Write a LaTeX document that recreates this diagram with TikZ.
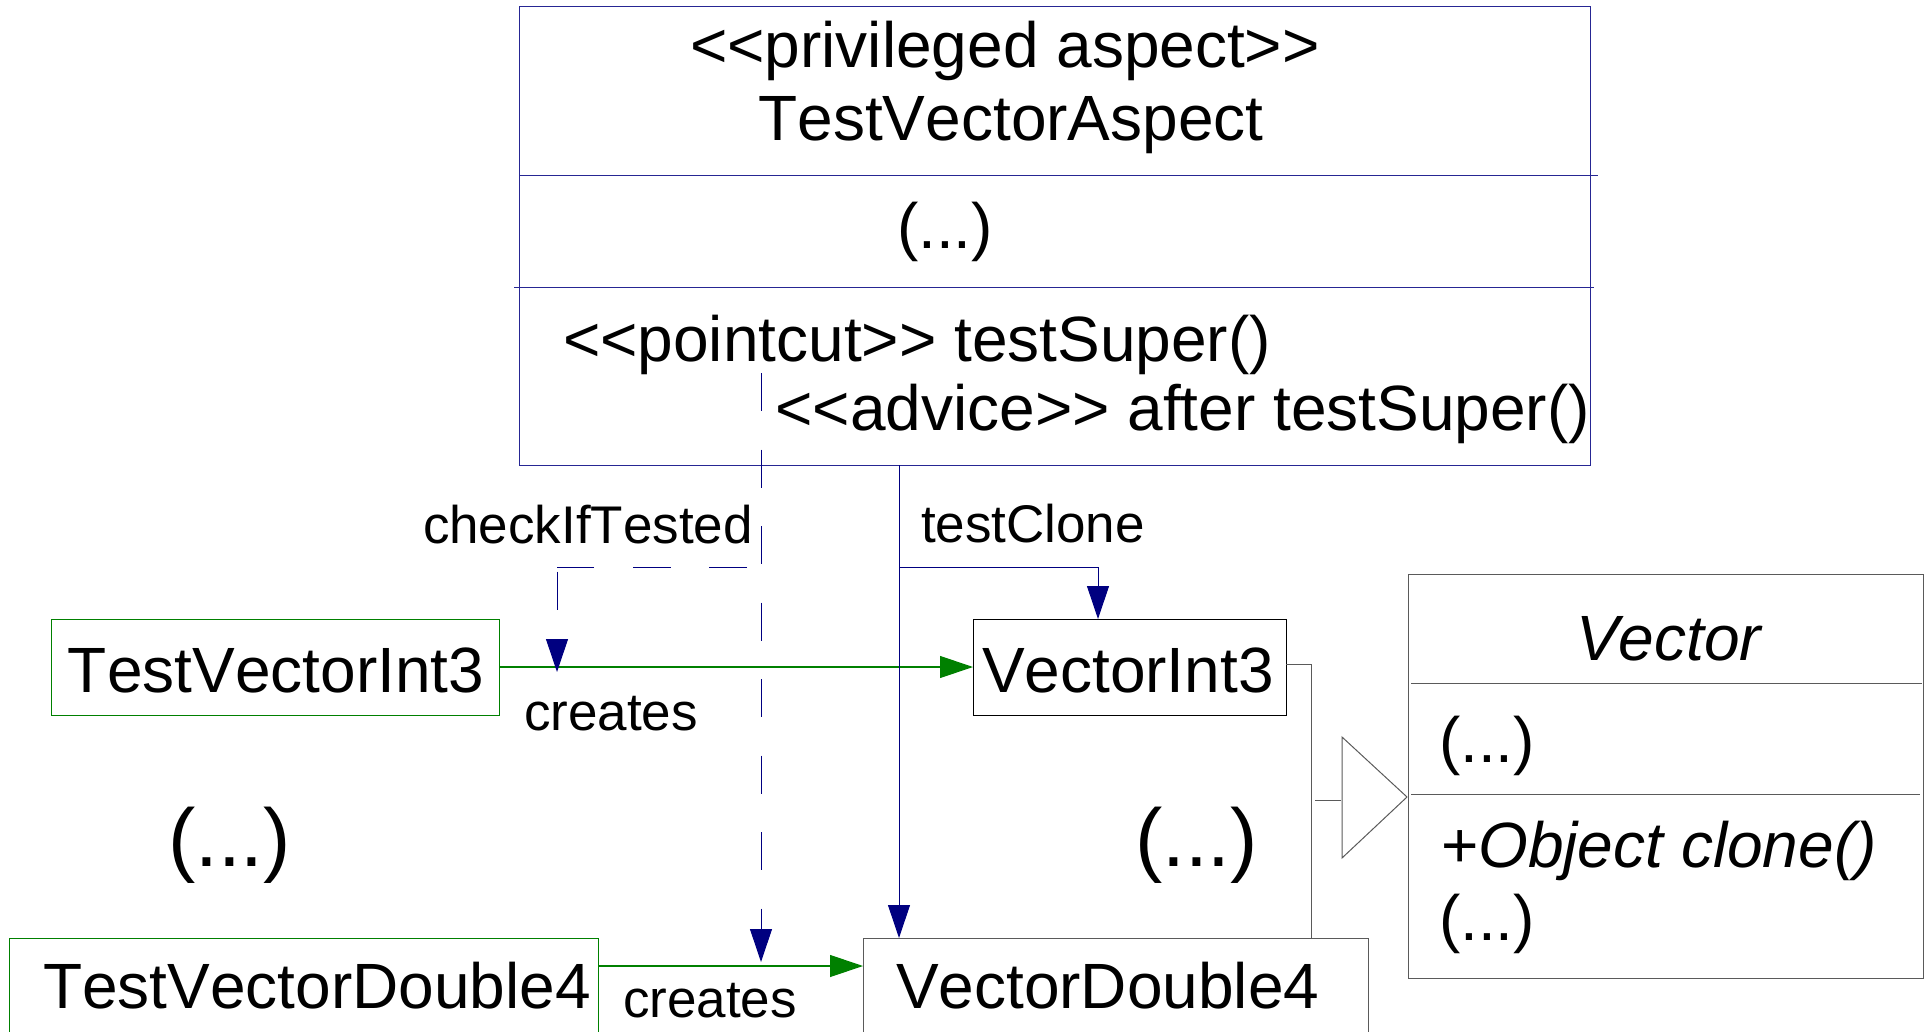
\documentclass[tikz,border=0pt]{standalone}
\usepackage{fontspec}
\setmainfont{Liberation Sans}[Kerning=Off]
\usetikzlibrary{arrows.meta}
\definecolor{umlblue}{RGB}{0,0,128}
\definecolor{umlgreen}{RGB}{0,128,0}
\definecolor{umlgray}{RGB}{90,90,90}
\newcommand\lguil{<{}<}
\newcommand\rguil{>{}>}

\begin{document}
\begin{tikzpicture}[x=0.5pt,y=-0.5pt,
  every node/.style={inner sep=0pt, outer sep=0pt},
  box/.style={draw, line width=0.5pt, anchor=north west},
  txt/.style={font=\fontsize{32pt}{36pt}\selectfont, anchor=base west},
  lbl/.style={font=\fontsize{26.5pt}{30pt}\selectfont, anchor=base west},
  big/.style={font=\fontsize{41pt}{46pt}\selectfont, anchor=base west},
  tip/.style={-{Triangle[length=16.5pt,width=11pt]}},
  crosscut/.style={draw=umlblue, line width=0.5pt},
  dashcut/.style={crosscut, dash pattern=on 19pt off 19.25pt},
  assoc/.style={draw=umlgreen, line width=0.6pt, -{Triangle[length=16.5pt,width=11pt]}},
  gen/.style={draw=umlgray, line width=0.5pt}]

\useasboundingbox (0,0) rectangle (1928,1032);

% aspect class with its three compartments
\node[box, draw=umlblue!85, minimum width=535.5pt, minimum height=229pt] (aspect) at (519,7) {};
\draw[umlblue!85, line width=0.5pt] (519,176) -- (1598,176);
\draw[umlblue!85, line width=0.5pt] (514,288) -- (1594,288);
\node[txt, anchor=base] (stereo) at (1005,68) {\lguil privileged aspect\rguil};
\node[txt, anchor=base] (aname) at (1011,141) {TestVectorAspect};
\node[txt] (aattr) at (897,249) {(...)};
\node[txt] (pcut) at (563,361) {\lguil pointcut\rguil\ testSuper()};
\node[txt, anchor=base east] (adv) at (1590,430) {\lguil advice\rguil\ after testSuper()};

% test classes
\node[box, draw=umlgreen, minimum width=224pt, minimum height=48pt] (tvi) at (51,619) {};
\node[txt] (tvitxt) at (68,692) {TestVectorInt3};
\node[box, draw=umlgreen, minimum width=294.5pt, minimum height=53.5pt] (tvd) at (9,938) {};
\node[txt] (tvdtxt) at (43,1008) {TestVectorDouble4};

% vector classes
\node[box, draw=black, minimum width=156.5pt, minimum height=48pt] (vi) at (973,619) {};
\node[txt] (vitxt) at (982,692) {VectorInt3};
\node[box, draw=umlgray, minimum width=252.5pt, minimum height=53.5pt] (vd) at (863,938) {};
\node[txt] (vdtxt) at (896,1008) {VectorDouble4};

% abstract superclass
\node[box, draw=umlgray, minimum width=257.5pt, minimum height=202pt] (vec) at (1408,574) {};
\draw[umlgray, line width=0.5pt] (1411,683) -- (1922,683);
\draw[umlgray, line width=0.5pt] (1411,794) -- (1920,794);
\node[txt] (vname) at (1576,660) {\itshape Vector};
\node[txt] (vattr) at (1439,762) {(...)};
\node[txt] (vop) at (1441,867) {+\itshape Object clone()};
\node[txt] (vmore) at (1439,940) {(...)};

% elided classes
\node[big] (more1) at (168,866) {(...)};
\node[big] (more2) at (1135,866) {(...)};

% creates associations
\draw[assoc] (tvi.east) -- (vi.west);
\draw[assoc] ([yshift=-14pt]tvd.north east) -- ([yshift=-14pt]vd.north west);
\node[lbl] (cr1) at (524,730) {creates};
\node[lbl] (cr2) at (623,1017) {creates};

% testClone crosscut
\coordinate (tcfoot) at (899,465);
\coordinate (tcjoin) at (899,567);
\coordinate (tcbend) at (1098,567);
\draw[crosscut, tip] (tcfoot) -- (tcfoot |- vd.north);
\draw[crosscut, tip] (tcjoin) -- (tcbend) -- (tcbend |- vi.north);
\node[lbl] (tclbl) at (921,542) {testClone};

% checkIfTested crosscut
\coordinate (chtop) at (761,373);
\coordinate (chend) at (761,962);
\coordinate (chjoin) at (747,567);
\coordinate (chbend) at (557,567);
\coordinate (chend2) at (557,672);
\draw[dashcut, tip] (chtop) -- (chend);
\draw[dashcut] (chjoin) -- (chbend);
\draw[dashcut, dash phase=36pt, tip] (chbend) -- (chend2);
\node[lbl] (chlbl) at (423,543) {checkIfTested};

% generalization to Vector
\coordinate (gjoin) at (1311,664);
\draw[gen] ([yshift=1.5pt]vi.east) -- (gjoin) -- (gjoin |- vd.north);
\coordinate (gstub) at (1315,800);
\coordinate (gbase) at (1341,800);
\draw[gen] (gstub) -- (gbase);
\draw[gen, line join=miter] (1342,737) -- (1342,858) -- (1407,797) -- cycle;

\end{tikzpicture}
\end{document}
